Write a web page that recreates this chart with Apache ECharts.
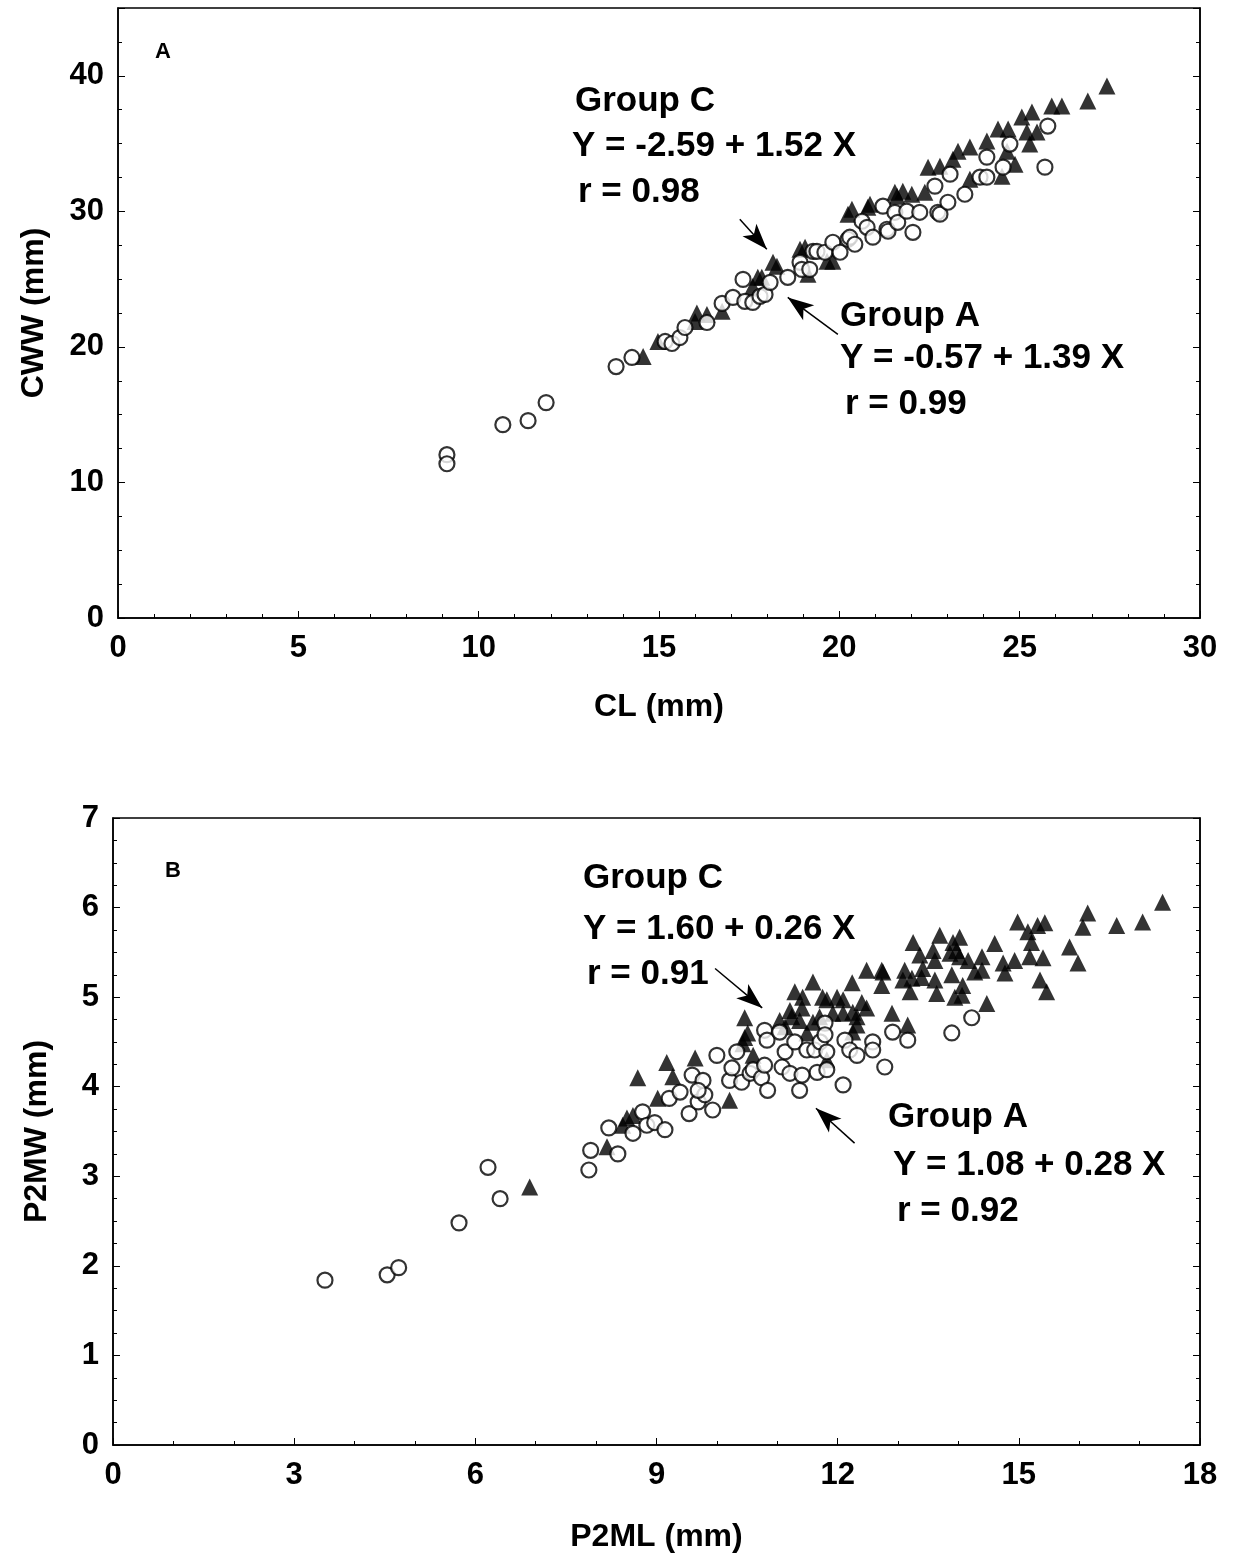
<!DOCTYPE html>
<html>
<head>
<meta charset="utf-8">
<script src="https://cdn.jsdelivr.net/npm/echarts@6/dist/echarts.min.js"></script>
<style>
  html, body { margin: 0; padding: 0; background: #fff; }
  #main { width: 1235px; height: 1556px; }
</style>
</head>
<body>
<div id="main"></div>
<script>
// panel A: CL (mm) vs CWW (mm)
var aCircles = [
  [9.12,12.05],[9.12,11.38],[10.67,14.26],[11.37,14.56],[11.87,15.89],[13.81,18.55],[14.25,19.22],
  [15.17,20.40],[15.36,20.25],[15.58,20.69],[15.72,21.43],[16.33,21.80],[16.75,23.21],[17.05,23.65],
  [17.33,24.98],[17.38,23.36],[17.60,23.28],[17.80,23.73],[17.94,23.87],[18.08,24.76],[18.57,25.13],
  [18.91,26.24],[18.96,25.72],[19.18,25.72],[19.27,27.05],[19.38,27.05],[19.60,26.98],[19.82,27.72],
  [20.02,26.98],[20.24,27.94],[20.29,28.09],[20.43,27.57],[20.63,29.27],[20.77,28.82],[20.93,28.09],
  [21.21,30.38],[21.32,28.68],[21.35,28.53],[21.54,29.93],[21.62,29.19],[21.87,30.01],[22.04,28.45],
  [22.23,29.93],[22.65,31.86],[22.73,29.93],[22.79,29.79],[23.01,30.67],[23.07,32.74],[23.48,31.26],
  [23.90,32.52],[24.09,32.52],[24.09,34.00],[24.54,33.26],[24.73,34.96],[25.70,33.26],[25.78,36.29]
];
var aTriangles = [
  [14.56,19.29],[14.97,20.40],[16.00,21.88],[16.05,22.50],[16.33,22.39],[16.75,22.62],[17.60,24.46],
  [17.74,25.13],[17.85,25.13],[18.16,26.24],[18.27,25.94],[18.91,27.20],[19.05,27.35],[19.13,25.35],
  [19.66,26.31],[19.82,26.31],[20.24,29.79],[20.35,30.15],[20.79,30.30],[20.85,30.52],[21.54,31.41],
  [21.60,31.12],[21.76,31.49],[22.01,31.26],[22.37,31.41],[22.46,33.26],[22.79,33.33],[23.15,33.85],
  [23.29,34.44],[23.62,34.74],[23.62,32.37],[24.09,35.18],[24.40,36.07],[24.51,32.59],[24.65,34.44],
  [24.68,36.07],[24.87,33.48],[25.06,36.95],[25.20,35.85],[25.28,34.96],[25.34,37.32],[25.48,35.85],
  [25.89,37.77],[26.17,37.77],[26.89,38.14],[27.42,39.25]
];

// panel B: P2ML (mm) vs P2MW (mm)
var bCircles = [
  [3.51,1.84],[4.54,1.90],[4.73,1.98],[5.73,2.48],[6.21,3.10],[6.41,2.75],[7.88,3.07],[7.91,3.29],
  [8.36,3.25],[8.21,3.54],[8.61,3.48],[8.77,3.72],[8.84,3.57],[8.97,3.60],[9.14,3.52],[9.21,3.87],
  [9.39,3.94],[9.54,3.70],[9.59,4.13],[9.69,3.83],[9.80,3.91],[9.93,3.74],[9.77,4.07],[9.69,3.96],
  [10.00,4.35],[10.21,4.07],[10.25,4.21],[10.33,4.39],[10.41,4.05],[10.55,4.15],[10.60,4.19],
  [10.74,4.10],[10.79,4.24],[10.84,3.96],[10.79,4.63],[10.83,4.52],[11.04,4.61],[11.08,4.22],
  [11.13,4.39],[11.21,4.15],[11.29,4.50],[11.37,3.96],[11.41,4.13],[11.49,4.41],[11.62,4.41],
  [11.66,4.16],[11.71,4.50],[11.79,4.71],[11.79,4.58],[11.82,4.39],[11.82,4.19],[12.09,4.02],
  [12.12,4.52],[12.20,4.41],[12.32,4.35],[12.58,4.50],[12.58,4.41],[12.78,4.22],[12.91,4.61],
  [13.16,4.52],[13.89,4.60],[14.22,4.77]
];
var bTriangles = [
  [6.90,2.88],[8.18,3.33],[8.44,3.57],[8.51,3.65],[8.61,3.68],[8.69,4.10],[9.02,3.87],[9.17,4.27],
  [9.27,4.11],[9.64,4.32],[10.21,3.85],[10.43,4.48],[10.46,4.77],[10.46,4.55],[10.51,4.60],[10.60,4.35],
  [11.04,4.74],[11.13,4.67],[11.21,4.85],[11.24,4.78],[11.29,5.06],[11.37,4.74],[11.41,4.88],[11.42,5.00],
  [11.49,4.60],[11.59,5.17],[11.59,4.72],[11.70,4.78],[11.75,5.00],[11.82,4.97],[11.82,4.30],[11.92,4.82],
  [11.99,5.00],[12.09,4.97],[12.09,4.82],[12.24,5.16],[12.25,4.83],[12.25,4.61],[12.32,4.69],[12.32,4.78],
  [12.40,4.94],[12.48,5.30],[12.48,4.88],[12.73,5.30],[12.73,5.13],[12.75,5.28],[12.90,4.82],[13.08,5.19],
  [13.11,5.30],[13.16,4.69],[13.20,5.06],[13.23,5.21],[13.25,5.61],[13.36,5.47],[13.39,5.22],[13.41,5.32],
  [13.58,5.52],[13.61,5.41],[13.61,5.19],[13.64,5.04],[13.69,5.69],[13.86,5.49],[13.89,5.25],[13.91,5.61],
  [13.94,5.00],[13.97,5.52],[14.02,5.67],[14.02,5.45],[14.06,5.02],[14.07,5.13],[14.16,5.41],[14.27,5.28],
  [14.39,5.45],[14.39,5.30],[14.47,4.93],[14.60,5.60],[14.74,5.38],[14.77,5.27],[14.93,5.41],[14.98,5.84],
  [15.15,5.73],[15.18,5.45],[15.21,5.61],[15.31,5.80],[15.35,5.19],[15.40,5.44],[15.43,5.83],[15.46,5.06],
  [15.84,5.56],[15.98,5.38],[16.06,5.78],[16.14,5.94],[16.62,5.80],[17.05,5.84],[17.38,6.06]
];

// arrows (data coords): [from, to]
var aArrows = [[[17.24,29.42],[17.99,27.20]], [[19.96,20.92],[18.57,23.65]]];
var bArrows = [[[9.97,5.32],[10.75,4.88]], [[12.28,3.37],[11.64,3.76]]];

var FONT = '"Liberation Sans", Arial, sans-serif';

function xAx(grid, max, interval, split, name, gap) {
  return {
    gridIndex: grid, type: 'value', min: 0, max: max, interval: interval,
    name: name, nameLocation: 'middle', nameGap: gap,
    nameTextStyle: { color: '#000', fontFamily: FONT, fontWeight: 'bold', fontSize: 32 },
    axisLine: { lineStyle: { color: '#000', width: 1.5 } },
    axisTick: { inside: true, length: 7, lineStyle: { color: '#000' } },
    minorTick: { show: true, splitNumber: split, length: 4, lineStyle: { color: '#000' } },
    axisLabel: { color: '#000', fontFamily: FONT, fontWeight: 'bold', fontSize: 31, margin: 15 },
    splitLine: { show: false }
  };
}
function yAx(grid, max, interval, split, name, gap, pos) {
  var right = pos === 'right';
  return {
    gridIndex: grid, type: 'value', min: 0, max: max, interval: interval, position: pos || 'left',
    name: right ? '' : name, nameLocation: 'middle', nameGap: gap,
    nameTextStyle: { color: '#000', fontFamily: FONT, fontWeight: 'bold', fontSize: 32 },
    axisLine: { show: true, lineStyle: { color: '#000', width: 1.5 } },
    axisTick: { inside: true, length: 7, lineStyle: { color: '#000' } },
    minorTick: { show: true, splitNumber: split, length: 4, lineStyle: { color: '#000' } },
    axisLabel: {
      show: !right, color: '#000', fontFamily: FONT, fontWeight: 'bold', fontSize: 31, margin: 14,
      formatter: function (v) { return v % interval === 0 ? String(v) : ''; }
    },
    splitLine: { show: false }
  };
}

function arrowLines(list) {
  return {
    silent: true, symbol: ['none', 'arrow'], symbolSize: [14, 26],
    lineStyle: { color: '#000', width: 1.5, type: 'solid' },
    label: { show: false },
    data: list.map(function (a) { return [{ coord: a[0] }, { coord: a[1] }]; })
  };
}

function txt(x, y, s, size) {
  return {
    type: 'text', x: x, y: y, silent: true,
    style: { text: s, fill: '#000', font: 'bold ' + (size || 35) + 'px ' + FONT, textVerticalAlign: 'middle' }
  };
}

var triStyle = { color: '#000' };
var circStyle = { color: '#fff', borderColor: '#000', borderWidth: 2.2 };

var chart = echarts.init(document.getElementById('main'));
chart.setOption({
  animation: false,
  backgroundColor: '#fff',
  grid: [
    { left: 118, top: 8, width: 1082, height: 610, show: true, borderColor: '#000', borderWidth: 1.5,
      outerBoundsMode: 'none', containLabel: false },
    { left: 113, top: 818, width: 1087, height: 627, show: true, borderColor: '#000', borderWidth: 1.5,
      outerBoundsMode: 'none', containLabel: false }
  ],
  xAxis: [
    xAx(0, 30, 5, 5, 'CL (mm)', 73),
    xAx(1, 18, 3, 3, 'P2ML (mm)', 76)
  ],
  yAxis: [
    yAx(0, 45, 10, 4, 'CWW (mm)', 68),
    yAx(0, 45, 10, 4, '', 0, 'right'),
    yAx(1, 7, 1, 4, 'P2MW (mm)', 60),
    yAx(1, 7, 1, 4, '', 0, 'right')
  ],
  series: [
    { type: 'scatter', xAxisIndex: 0, yAxisIndex: 0, symbol: 'triangle', symbolSize: 17,
      itemStyle: triStyle, data: aTriangles, markLine: arrowLines(aArrows) },
    { type: 'scatter', xAxisIndex: 0, yAxisIndex: 0, symbol: 'circle', symbolSize: 15,
      itemStyle: circStyle, data: aCircles },
    { type: 'scatter', xAxisIndex: 1, yAxisIndex: 2, symbol: 'triangle', symbolSize: 17,
      itemStyle: triStyle, data: bTriangles, markLine: arrowLines(bArrows) },
    { type: 'scatter', xAxisIndex: 1, yAxisIndex: 2, symbol: 'circle', symbolSize: 15,
      itemStyle: circStyle, data: bCircles }
  ],
  graphic: [
    txt(155, 52, 'A', 22),
    txt(575, 101, 'Group C'),
    txt(572, 146, 'Y = -2.59 + 1.52 X'),
    txt(578, 192, 'r = 0.98'),
    txt(840, 316, 'Group A'),
    txt(840, 358, 'Y = -0.57 + 1.39 X'),
    txt(845, 404, 'r = 0.99'),
    txt(165, 871, 'B', 22),
    txt(583, 878, 'Group C'),
    txt(583, 929, 'Y = 1.60 + 0.26 X'),
    txt(587, 974, 'r = 0.91'),
    txt(888, 1117, 'Group A'),
    txt(893, 1165, 'Y = 1.08 + 0.28 X'),
    txt(897, 1211, 'r = 0.92')
  ]
});
</script>
</body>
</html>
